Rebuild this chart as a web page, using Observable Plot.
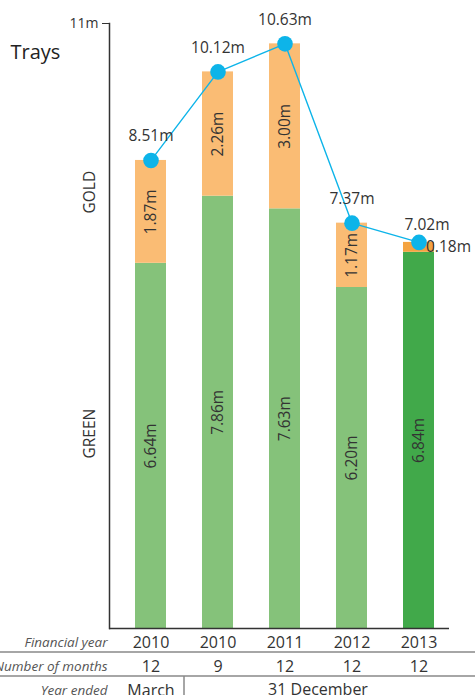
<!DOCTYPE html>
<html>
<head>
<meta charset="utf-8">
<script src="https://cdn.jsdelivr.net/npm/d3@7"></script>
<script src="https://cdn.jsdelivr.net/npm/@observablehq/plot@0.6"></script>
<style>
  html, body { margin: 0; padding: 0; background: #fff; }
  #chart svg { display: block; font-family: "Open Sans", sans-serif; }
</style>
</head>
<body>
<div id="chart"></div>
<script>
const categories = ["Mar 2010", "Dec 2010", "Dec 2011", "Dec 2012", "Dec 2013"];
const yearLabels = ["2010", "2010", "2011", "2012", "2013"];
const monthLabels = ["12", "9", "12", "12", "12"];
const greenValues = [6.64, 7.86, 7.63, 6.20, 6.84];
const goldValues = [1.87, 2.26, 3.00, 1.17, 0.18];
const totalValues = [8.51, 10.12, 10.63, 7.37, 7.02];
const totalLabels = ["8.51m", "10.12m", "10.63m", "7.37m", "7.02m"];
const greenLabels = ["6.64m", "7.86m", "7.63m", "6.20m", "6.84m"];
const goldLabels = ["1.87m", "2.26m", "3.00m", "1.17m", "0.18m"];
const yTicks = [11];

const W = 475, H = 695;
const mL = 109, mR = 26, mT = 23, mB = 67;
const ink = "#333";
const cyan = "#0db4e9";

const latest = categories[categories.length - 1];
const key = (cat, seg) => seg + (cat === latest ? "-latest" : "");

const segs = [];
categories.forEach((c, i) => {
  segs.push({cat: c, seg: "green", value: greenValues[i], mid: greenValues[i] / 2, label: greenLabels[i]});
  segs.push({cat: c, seg: "gold", value: goldValues[i], mid: greenValues[i] + goldValues[i] / 2, label: goldLabels[i]});
});
const totals = categories.map((c, i) => ({cat: c, value: totalValues[i], label: totalLabels[i]}));
const yearRows = categories.map((c, i) => ({cat: c, year: yearLabels[i], months: monthLabels[i]}));

const insideSegs = segs.filter(d => !(d.cat === latest && d.seg === "gold"));
const outsideSegs = segs.filter(d => d.cat === latest && d.seg === "gold");

const plot = Plot.plot({
  width: W,
  height: H,
  marginLeft: mL,
  marginRight: mR,
  marginTop: mT,
  marginBottom: mB,
  style: {fontFamily: "'Open Sans', sans-serif", color: ink, background: "#fff"},
  x: {type: "band", domain: categories, range: [134, 435], paddingInner: 0.54, paddingOuter: 0, axis: null},
  y: {domain: [0, 11], axis: null},
  color: {
    domain: ["green", "gold", "green-latest", "gold-latest"],
    range: ["#85c27a", "#fabc74", "#41a94a", "#f4a340"]
  },
  marks: [
    Plot.barY(segs, {x: "cat", y: "value", fill: d => key(d.cat, d.seg), order: ["green", "gold", "green-latest", "gold-latest"]}),
    Plot.text(insideSegs, {x: "cat", y: "mid", text: "label", rotate: -90, fontSize: 15.5, fill: ink}),
    Plot.text(outsideSegs, {x: "cat", y: "mid", text: "label", fontSize: 15.5, fill: ink, textAnchor: "start", dx: 7}),
    Plot.line(totals, {x: "cat", y: "value", stroke: cyan, strokeWidth: 1.4}),
    Plot.dot(totals, {x: "cat", y: "value", r: 7.8, fill: cyan}),
    Plot.text(totals.filter(d => d.cat !== latest), {x: "cat", y: "value", text: "label", dy: -24, fontSize: 15.5, fill: ink}),
    Plot.text(totals.filter(d => d.cat === latest), {x: "cat", y: "value", text: "label", dy: -17, dx: 8, fontSize: 15.5, fill: ink}),
    Plot.ruleY([0], {stroke: "#333", strokeWidth: 1.5}),
    Plot.frame({anchor: "left", stroke: "#333", strokeWidth: 1.5}),
    Plot.axisY({ticks: yTicks, tickFormat: d => `${d}m`, tickSize: 7, tickPadding: 4, fontSize: 14, label: null, stroke: "#333", fill: ink}),
    // bottom table: years and months
    Plot.text(yearRows, {x: "cat", text: "year", frameAnchor: "bottom", lineAnchor: "middle", dy: 14, fontSize: 16, fill: ink}),
    Plot.text(yearRows, {x: "cat", text: "months", frameAnchor: "bottom", lineAnchor: "middle", dy: 38, fontSize: 16, fill: ink}),
    Plot.text(yearRows.slice(0, 1), {x: "cat", text: () => "March", frameAnchor: "bottom", lineAnchor: "middle", dy: 62, fontSize: 16, fill: ink}),
    // row headers
    Plot.text(["Financial year"], {frameAnchor: "bottom-left", lineAnchor: "middle", text: d => d, textAnchor: "end", dx: -2, dy: 14, fontSize: 13.5, fontStyle: "italic", fill: "#555"}),
    Plot.text(["Number of months"], {frameAnchor: "bottom-left", lineAnchor: "middle", text: d => d, textAnchor: "end", dx: -2, dy: 38, fontSize: 13.5, fontStyle: "italic", fill: "#555"}),
    Plot.text(["Year ended"], {frameAnchor: "bottom-left", lineAnchor: "middle", text: d => d, textAnchor: "end", dx: -2, dy: 62, fontSize: 13.5, fontStyle: "italic", fill: "#555"}),
    // side labels
    Plot.text(["Trays"], {frameAnchor: "top-left", lineAnchor: "middle", text: d => d, textAnchor: "start", dx: -99, dy: 29, fontSize: 20, fill: "#222"}),
    Plot.text(["GOLD"], {frameAnchor: "bottom-left", lineAnchor: "middle", text: d => d, rotate: -90, dx: -19, dy: -415, fontSize: 15.5, fill: ink}),
    Plot.text(["GREEN"], {frameAnchor: "bottom-left", lineAnchor: "middle", text: d => d, rotate: -90, dx: -19, dy: -170, fontSize: 15.5, fill: ink})
  ]
});

// table grid lines and "31 December" spanning label, positioned with the x scale
const svg = d3.select(plot);
const xs = plot.scale("x");
const c0 = xs.apply(categories[0]) + xs.bandwidth / 2;
const c1 = xs.apply(categories[1]) + xs.bandwidth / 2;
const cN = xs.apply(latest) + xs.bandwidth / 2;
const base = H - mB;
const g = svg.append("g").attr("stroke", "#888").attr("stroke-width", 1.5);
g.append("line").attr("x1", 0).attr("x2", W).attr("y1", base + 24).attr("y2", base + 24);
g.append("line").attr("x1", 0).attr("x2", W).attr("y1", base + 48).attr("y2", base + 48);
g.append("line").attr("x1", (c0 + c1) / 2).attr("x2", (c0 + c1) / 2).attr("y1", base + 48).attr("y2", H);
svg.append("text")
  .attr("x", (c1 + cN) / 2).attr("y", base + 62).attr("dy", "0.32em")
  .attr("text-anchor", "middle").attr("font-size", 16).attr("fill", ink)
  .attr("font-family", "'Open Sans', sans-serif")
  .text("31 December");

document.getElementById("chart").append(plot);
</script>
</body>
</html>
